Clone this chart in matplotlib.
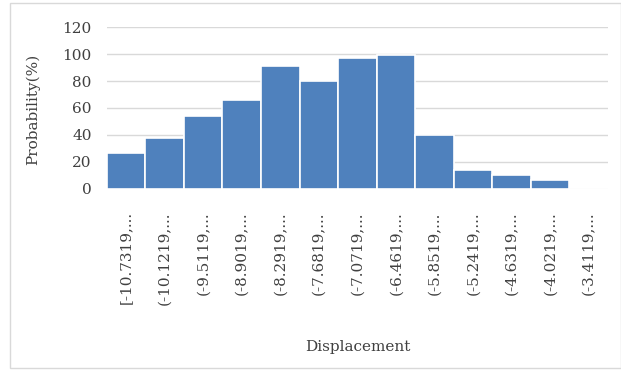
import matplotlib
matplotlib.use('Agg')
import matplotlib.pyplot as plt
from matplotlib.patches import Rectangle
import numpy as np

# histogram bins of displacement and their probability
bins = ["[-10.7319,...", "(-10.1219,...", "(-9.5119,...", "(-8.9019,...",
        "(-8.2919,...", "(-7.6819,...", "(-7.0719,...", "(-6.4619,...",
        "(-5.8519,...", "(-5.2419,...", "(-4.6319,...", "(-4.0219,...",
        "(-3.4119,..."]
probability = [27, 38, 54, 66, 91, 80, 97, 99, 40, 14, 10, 7, 0]
yticks = [0, 20, 40, 60, 80, 100, 120]

plt.rcParams['font.family'] = ['DejaVu Serif']

fig = plt.figure(figsize=(6.21, 3.71), dpi=100)
ax = fig.add_axes([0.172, 0.4906, 0.807, 0.4366])

x = np.arange(len(bins))
ax.bar(x, probability, width=1.0, color='#4F81BD', edgecolor='white', linewidth=1.2, zorder=3)

ax.set_xlim(-0.5, len(bins) - 0.5)
ax.set_ylim(0, 120)
ax.set_yticks(yticks)
ax.yaxis.grid(True, color='#d9d9d9', linewidth=1.0, zorder=0)
for s in ax.spines.values():
    s.set_visible(False)
ax.tick_params(axis='both', length=0, labelsize=11, colors='#404040')
ax.tick_params(axis='y', pad=11)
ax.set_xticks(x)
ax.set_xticklabels(bins, rotation=90, va='top')
ax.tick_params(axis='x', pad=16)

ax.set_ylabel('Probability(%)', fontsize=11, color='#404040')
ax.set_xlabel('Displacement', fontsize=11, color='#404040')
ax.yaxis.set_label_coords(-0.148, 0.49)
ax.xaxis.set_label_coords(0.5, -0.975)
ax.xaxis.label.set_va('center')
ax.yaxis.label.set_va('center')

# light frame around the whole chart
fig.patches.append(Rectangle((0.016, 0.008), 0.984, 0.984, transform=fig.transFigure,
                             fill=False, edgecolor='#d9d9d9', linewidth=1.0))

fig.savefig('out.png', dpi=100)
